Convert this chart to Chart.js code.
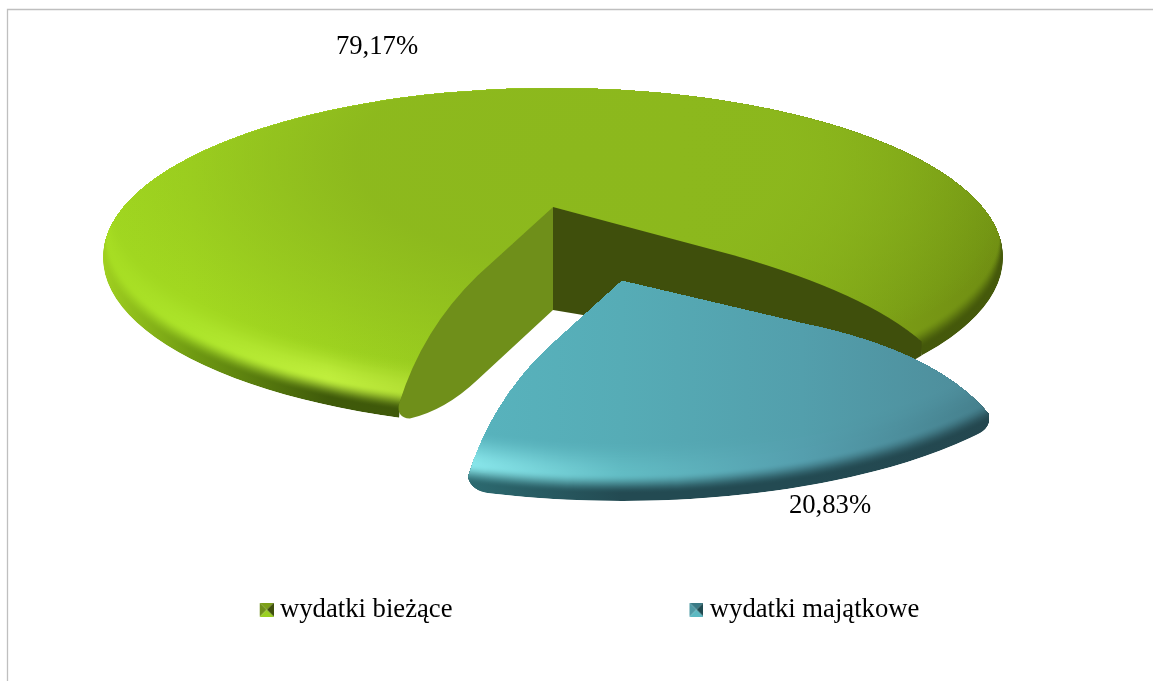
<!DOCTYPE html>
<html lang="pl">
<head>
<meta charset="utf-8">
<title>Wydatki</title>
<script src="https://cdn.jsdelivr.net/npm/chart.js@4"></script>
<style>
html,body{margin:0;padding:0;background:#fff}
canvas{display:block}
</style>
</head>
<body>
<canvas id="c" width="1153" height="681"></canvas>
<script>
const categories = ['wydatki bieżące', 'wydatki majątkowe'];
const seriesValues = [79.17, 20.83];
const baseColors = ['#8cb81d', '#54a8b4'];

const FONT = '"Liberation Serif", "Times New Roman", serif';
const FONT_SIZE = 26.67;
const ROTATION = 200;

/* Styling of the tilted, bevelled look: one entry per slice */
const sliceViews = [
  { cx: 553, cy: 258, rx: 450, ry: 170, apexDy: -51, depth: 103, round: 0,
    startFrame: [.49, .325, .85, .58], endFrame: [.49, .325, .85, .58], startInset: 0,
    xStops: [0, .1, .25, .5, .8, 1],
    edge: ['#a0d020', '#6f9a12', '#3f5a0a', '#3e540a', '#43570b', '#45590b'],
    hi:   ['#a6dc22', '#ace42a', '#bfee3c', '#a0c828', '#82a518', '#6f8d12'],
    surf: ['#a0d620', '#a2d820', '#9fd420', '#95c61e', '#82a818', '#6f8f12'],
    dome: '#8cb81d',
    wallLeft: '#6f8f1a', wallRight: '#3f4f0c' },
  { cx: 622, cy: 329, rx: 450, ry: 172, apexDy: -48, depth: 0, round: 3,
    startFrame: [.49, .29, .85, .476], endFrame: [.49, .325, .85, .58], startInset: 2,
    xStops: [.33, .5, .7, .91],
    edge: ['#2c6a70', '#234a52', '#234a52', '#24474f'],
    hi:   ['#88e6ea', '#62bcc4', '#559fae', '#457f8c'],
    surf: ['#58b3bd', '#56acb6', '#539fac', '#4d8b99'],
    dome: null,
    wallLeft: null, wallRight: null }
];
const labelSpots = [[377, 47], [830, 506]];
const legendMarks = [
  { top: '#7da018', left: '#6f8f1a', right: '#3f4f0c', bottom: '#9ad020' },
  { top: '#3a7a85', left: '#4f9aa5', right: '#1f4a50', bottom: '#5bb9c2' }
];

function rgb(h) { return [1, 3, 5].map(i => parseInt(h.substr(i, 2), 16)); }
function mix(a, b, t) {
  const A = rgb(a), B = rgb(b);
  return 'rgb(' + A.map((v, i) => Math.round(v + (B[i] - v) * t)).join(',') + ')';
}
function smooth(t) { t = Math.max(0, Math.min(1, t)); return t * t * (3 - 2 * t); }
function profile(v, i, k) {
  if (k <= 7) return v.edge[i];
  if (k <= 26) return mix(v.edge[i], v.hi[i], smooth((k - 7) / 19));
  return mix(v.hi[i], v.surf[i], smooth((k - 26) / 34));
}

function outline(ctx, v, start, end) {
  const ax = v.cx, ay = v.cy + v.apexDy;
  const pt = a => [v.cx + v.rx * Math.cos(a), v.cy + v.ry * Math.sin(a)];
  const frame = (c, fr, inset) => {
    const vx = c[0] - ax, vy = c[1] - ay;
    return {
      c,
      corner: [c[0] - inset, c[1] - 14],
      mid: [ax + fr[0] * vx, ay + fr[1] * vy],
      ctrl: [ax + fr[2] * vx, ay + fr[3] * vy]
    };
  };
  const s = frame(pt(start), v.startFrame, v.startInset), e = frame(pt(end), v.endFrame, 0);
  const r = v.round * Math.PI / 180;
  ctx.beginPath();
  ctx.moveTo(ax, ay);
  ctx.lineTo(s.mid[0], s.mid[1]);
  ctx.quadraticCurveTo(s.ctrl[0], s.ctrl[1], s.corner[0], s.corner[1]);
  if (r) {
    const p = pt(start + r);
    ctx.quadraticCurveTo(s.c[0] + 1, s.c[1], p[0], p[1]);
  } else {
    ctx.lineTo(s.c[0], s.c[1]);
  }
  ctx.ellipse(v.cx, v.cy, v.rx, v.ry, 0, start + r, end - r);
  if (r) ctx.quadraticCurveTo(e.c[0] + 3, e.c[1], e.corner[0], e.corner[1]);
  else ctx.lineTo(e.corner[0], e.corner[1]);
  ctx.quadraticCurveTo(e.ctrl[0], e.ctrl[1], e.mid[0], e.mid[1]);
  ctx.closePath();
  return { s, e, ax, ay };
}

function drawWalls(ctx, v, g) {
  const ax = g.ax, ay = g.ay, wy = ay + v.depth;
  const at = (c, f, h) => [ax + f * (c[0] - ax), ay + h * (c[1] - ay)];
  const sc = g.s.c;
  const p1 = at(sc, .49, .82), p2 = at(sc, .70, .965), p3 = at(sc, .93, 1.004), p4 = at(sc, 1.02, 1.0);
  ctx.beginPath();
  ctx.moveTo(ax, ay);
  ctx.lineTo(g.s.mid[0], g.s.mid[1]);
  ctx.quadraticCurveTo(g.s.ctrl[0], g.s.ctrl[1], g.s.corner[0], g.s.corner[1]);
  ctx.quadraticCurveTo(p4[0], p4[1], p3[0], p3[1]);
  ctx.quadraticCurveTo(p2[0], p2[1], p1[0], p1[1]);
  ctx.lineTo(ax, wy);
  ctx.closePath();
  ctx.fillStyle = v.wallLeft;
  ctx.fill();
  const ec = g.e.c;
  const q1 = at(ec, .5, .9), q2 = at(ec, .98, 1.03);
  ctx.beginPath();
  ctx.moveTo(ax, ay);
  ctx.lineTo(g.e.mid[0], g.e.mid[1]);
  ctx.quadraticCurveTo(g.e.ctrl[0], g.e.ctrl[1], g.e.corner[0], g.e.corner[1]);
  ctx.lineTo(ec[0], ec[1]);
  ctx.lineTo(q2[0], q2[1]);
  ctx.lineTo(q1[0], q1[1]);
  ctx.lineTo(ax, wy);
  ctx.closePath();
  ctx.fillStyle = v.wallRight;
  ctx.fill();
}

class Arc3D extends Chart.ArcElement {
  draw(ctx) {
    const { startAngle, endAngle } = this.getProps(['startAngle', 'endAngle']);
    const v = sliceViews[this.$context ? this.$context.dataIndex : 0];
    const K = 60;
    ctx.save();
    const g = outline(ctx, v, startAngle, endAngle);
    ctx.clip();
    const x0 = v.cx - v.rx, w = 2 * v.rx;
    for (let k = 0; k <= K; k++) {
      const grad = ctx.createLinearGradient(x0, 0, x0 + w, 0);
      v.xStops.forEach((f, i) => grad.addColorStop(f, profile(v, i, k)));
      ctx.fillStyle = grad;
      ctx.beginPath();
      ctx.ellipse(v.cx, v.cy - k, v.rx - k * .15, v.ry, 0, 0, Math.PI * 2);
      ctx.fill();
    }
    if (v.dome) {
      const [r, gg, b] = rgb(v.dome);
      ctx.translate(v.cx + 20, v.cy - 100);
      ctx.scale(1, .48);
      const rg = ctx.createRadialGradient(0, 0, 0, 0, 0, 480);
      rg.addColorStop(0, `rgba(${r},${gg},${b},1)`);
      rg.addColorStop(.45, `rgba(${r},${gg},${b},.95)`);
      rg.addColorStop(1, `rgba(${r},${gg},${b},0)`);
      ctx.fillStyle = rg;
      ctx.fillRect(-600, -600, 1200, 1200);
    }
    ctx.restore();
    if (v.wallLeft) drawWalls(ctx, v, g);
  }
}
Arc3D.id = 'arc3d';
Arc3D.defaults = Chart.ArcElement.defaults;
Arc3D.defaultRoutes = Chart.ArcElement.defaultRoutes;
Arc3D.descriptors = Chart.ArcElement.descriptors;

class Pie3D extends Chart.PieController {}
Pie3D.id = 'pie3d';
Pie3D.defaults = { dataElementType: 'arc3d' };
Pie3D.overrides = Chart.PieController.overrides;
Chart.register(Arc3D, Pie3D);

function legendMarker(m) {
  const cv = document.createElement('canvas');
  cv.width = 22; cv.height = 14;
  const c = cv.getContext('2d');
  const tri = (col, a, b) => {
    c.fillStyle = col;
    c.beginPath(); c.moveTo(15, 7); c.lineTo(a[0], a[1]); c.lineTo(b[0], b[1]); c.closePath(); c.fill();
  };
  tri(m.top, [8, 0], [22, 0]);
  tri(m.left, [8, 0], [8, 14]);
  tri(m.right, [22, 0], [22, 14]);
  tri(m.bottom, [8, 14], [22, 14]);
  return cv;
}

const framePlugin = {
  id: 'frame',
  beforeDraw(chart) {
    const c = chart.ctx;
    c.save();
    c.fillStyle = '#fff';
    c.fillRect(0, 0, chart.width, chart.height);
    c.strokeStyle = '#bfbfbf';
    c.lineWidth = 1.3;
    c.beginPath();
    c.moveTo(7.5, chart.height);
    c.lineTo(7.5, 9.5);
    c.lineTo(chart.width, 9.5);
    c.stroke();
    c.restore();
  }
};
const valueLabels = {
  id: 'valueLabels',
  afterDatasetsDraw(chart) {
    const c = chart.ctx;
    c.save();
    c.font = FONT_SIZE + 'px ' + FONT;
    c.fillStyle = '#000';
    c.textAlign = 'center';
    c.textBaseline = 'middle';
    seriesValues.forEach((val, i) => {
      c.fillText(val.toFixed(2).replace('.', ',') + '%', labelSpots[i][0], labelSpots[i][1]);
    });
    c.restore();
  }
};

new Chart(document.getElementById('c'), {
  type: 'pie3d',
  data: {
    labels: categories,
    datasets: [{ data: seriesValues, backgroundColor: baseColors, clip: false, borderWidth: 0 }]
  },
  plugins: [framePlugin, valueLabels],
  options: {
    responsive: false,
    animation: false,
    rotation: ROTATION,
    layout: { padding: { left: 12.5, right: -12.5, top: 10, bottom: 48 } },
    plugins: {
      tooltip: { enabled: false },
      title: { display: false },
      legend: {
        display: true,
        position: 'bottom',
        labels: {
          font: { family: FONT, size: FONT_SIZE },
          color: '#000',
          usePointStyle: true,
          pointStyleWidth: 8,
          boxHeight: 14,
          padding: 236,
          generateLabels: () => categories.map((t, i) => ({
            text: t, fillStyle: baseColors[i], strokeStyle: baseColors[i], lineWidth: 0,
            pointStyle: legendMarker(legendMarks[i]), hidden: false, index: i
          }))
        }
      }
    }
  }
});
</script>
</body>
</html>
